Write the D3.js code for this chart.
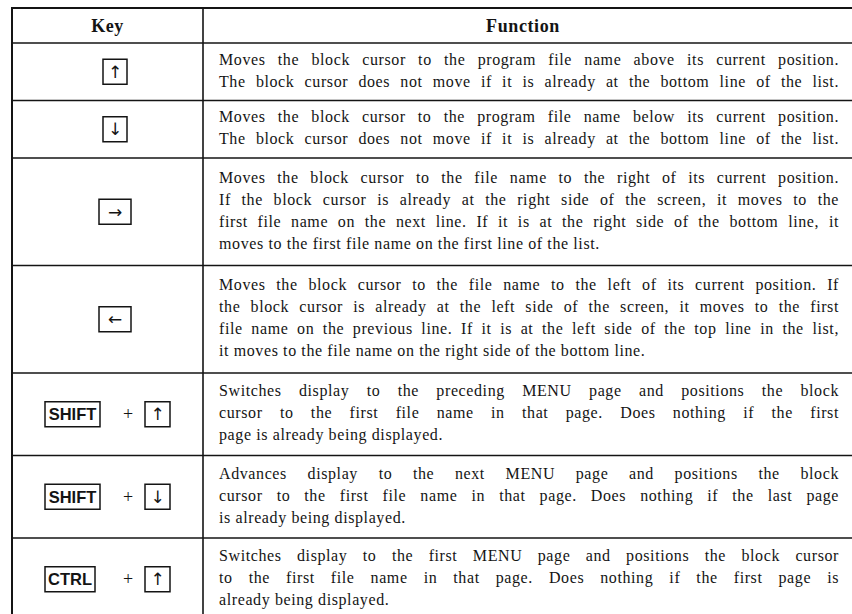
<!DOCTYPE html>
<html>
<head>
<meta charset="utf-8">
<script src="https://cdn.jsdelivr.net/npm/d3@7"></script>
<style>
  html, body { margin: 0; padding: 0; background: #fff; }
  svg { display: block; }
</style>
</head>
<body>
<svg id="chart" width="852" height="614"></svg>
<script>
// ---- data ----
const headers = ["Key", "Function"];

const keys = [
  ["↑"],
  ["↓"],
  ["→"],
  ["←"],
  ["SHIFT", "↑"],
  ["SHIFT", "↓"],
  ["CTRL", "↑"]
];

const descriptions = [
  ["Moves the block cursor to the program file name above its current position.",
   "The block cursor does not move if it is already at the bottom line of the list."],
  ["Moves the block cursor to the program file name below its current position.",
   "The block cursor does not move if it is already at the bottom line of the list."],
  ["Moves the block cursor to the file name to the right of its current position.",
   "If the block cursor is already at the right side of the screen, it moves to the",
   "first file name on the next line. If it is at the right side of the bottom line, it",
   "moves to the first file name on the first line of the list."],
  ["Moves the block cursor to the file name to the left of its current position. If",
   "the block cursor is already at the left side of the screen, it moves to the first",
   "file name on the previous line. If it is at the left side of the top line in the list,",
   "it moves to the file name on the right side of the bottom line."],
  ["Switches display to the preceding MENU page and positions the block",
   "cursor to the first file name in that page. Does nothing if the first",
   "page is already being displayed."],
  ["Advances display to the next MENU page and positions the block",
   "cursor to the first file name in that page. Does nothing if the last page",
   "is already being displayed."],
  ["Switches display to the first MENU page and positions the block cursor",
   "to the first file name in that page. Does nothing if the first page is",
   "already being displayed."]
];

// ---- layout ----
const svg = d3.select("#chart");
const W = 852, H = 614;
const tblLeft = 12, colDiv = 203, tblRight = 852;
const tblTop = 8, headBottom = 43;
const lineH = 22;
const ink = "#141414";
const textX0 = 219, textX1 = 839;
const serif = "'Liberation Serif', 'Times New Roman', serif";
const sans = "'Liberation Sans', Arial, sans-serif";

// row boundaries from line counts
const rowHeights = descriptions.map(d => 25 * d.length + 7.5);
const rowTops = [];
let acc = headBottom;
rowHeights.forEach(h => { rowTops.push(acc); acc += h; });
const boundaries = [tblTop, headBottom].concat(rowTops.slice(1));

// grid lines
const g = svg.append("g");
boundaries.forEach((y, i) => {
  g.append("line")
    .attr("x1", tblLeft).attr("x2", tblRight)
    .attr("y1", y).attr("y2", y)
    .attr("stroke", ink)
    .attr("stroke-width", i === 0 ? 2 : 1.6);
});
g.append("line").attr("x1", tblLeft).attr("x2", tblLeft).attr("y1", tblTop - 1).attr("y2", H)
  .attr("stroke", ink).attr("stroke-width", 2);
g.append("line").attr("x1", colDiv).attr("x2", colDiv).attr("y1", tblTop).attr("y2", H)
  .attr("stroke", ink).attr("stroke-width", 1.6);

// headers
const headY = (tblTop + headBottom) / 2 + 6;
svg.append("text").text(headers[0])
  .attr("x", (tblLeft + colDiv) / 2).attr("y", headY)
  .attr("text-anchor", "middle")
  .attr("font-family", serif).attr("font-size", 18).attr("font-weight", "bold")
  .attr("letter-spacing", 0.5)
  .attr("fill", ink);
svg.append("text").text(headers[1])
  .attr("x", (colDiv + textX1) / 2 + 2).attr("y", headY)
  .attr("text-anchor", "middle")
  .attr("font-family", serif).attr("font-size", 18).attr("font-weight", "bold")
  .attr("letter-spacing", 0.6)
  .attr("fill", ink);

// measuring helper
const measurer = svg.append("text")
  .attr("font-family", serif).attr("font-size", 16)
  .attr("letter-spacing", 0.6)
  .attr("x", -1000).attr("y", -1000);
function measure(s) {
  measurer.text(s);
  return measurer.node().getComputedTextLength();
}
const spaceW = measure("a a") - measure("aa");

// descriptions (justified, last line of a paragraph left ragged unless nearly full)
descriptions.forEach((lines, r) => {
  const cy = rowTops[r] + rowHeights[r] / 2;
  lines.forEach((line, i) => {
    const baseline = cy + (i - (lines.length - 1) / 2) * lineH + 4;
    const words = line.split(" ");
    const widths = words.map(measure);
    const sum = d3.sum(widths);
    const natural = sum + spaceW * (words.length - 1);
    const avail = textX1 - textX0;
    const isLast = i === lines.length - 1;
    const justify = words.length > 1 && (!isLast || natural > 0.8 * avail);
    const gap = justify ? (avail - sum) / (words.length - 1) : spaceW;
    const t = svg.append("text")
      .attr("y", baseline)
      .attr("font-family", serif).attr("font-size", 16)
      .attr("letter-spacing", 0.6)
      .attr("fill", ink);
    let x = textX0;
    words.forEach((w, k) => {
      t.append("tspan").attr("x", x).text(w);
      x += widths[k] + gap;
    });
  });
});
measurer.remove();

// keys
function drawKey(x, cy, w, label, isWord) {
  const h = 25;
  svg.append("rect")
    .attr("x", x).attr("y", cy - h / 2)
    .attr("width", w).attr("height", h)
    .attr("fill", "#fff").attr("stroke", ink).attr("stroke-width", 1.5);
  svg.append("text")
    .attr("x", x + w / 2)
    .attr("y", cy + 6)
    .attr("text-anchor", "middle")
    .attr("font-family", isWord ? sans : "'DejaVu Sans', sans-serif")
    .attr("font-weight", isWord ? "bold" : "normal")
    .attr("font-size", isWord ? 16.5 : 17)
    .attr("fill", ink)
    .text(label);
}
keys.forEach((k, r) => {
  const cy = rowTops[r] + rowHeights[r] / 2;
  if (k.length === 1) {
    const w = (k[0] === "→" || k[0] === "←") ? 32 : 24;
    drawKey(115 - w / 2, cy, w, k[0], false);
  } else {
    const w0 = k[0] === "SHIFT" ? 55 : 50;
    drawKey(45, cy, w0, k[0], true);
    svg.append("text").text("+")
      .attr("x", 128).attr("y", cy + 6)
      .attr("text-anchor", "middle")
      .attr("font-family", serif).attr("font-size", 18)
      .attr("fill", ink);
    drawKey(145, cy, 25, k[1], false);
  }
});
</script>
</body>
</html>
